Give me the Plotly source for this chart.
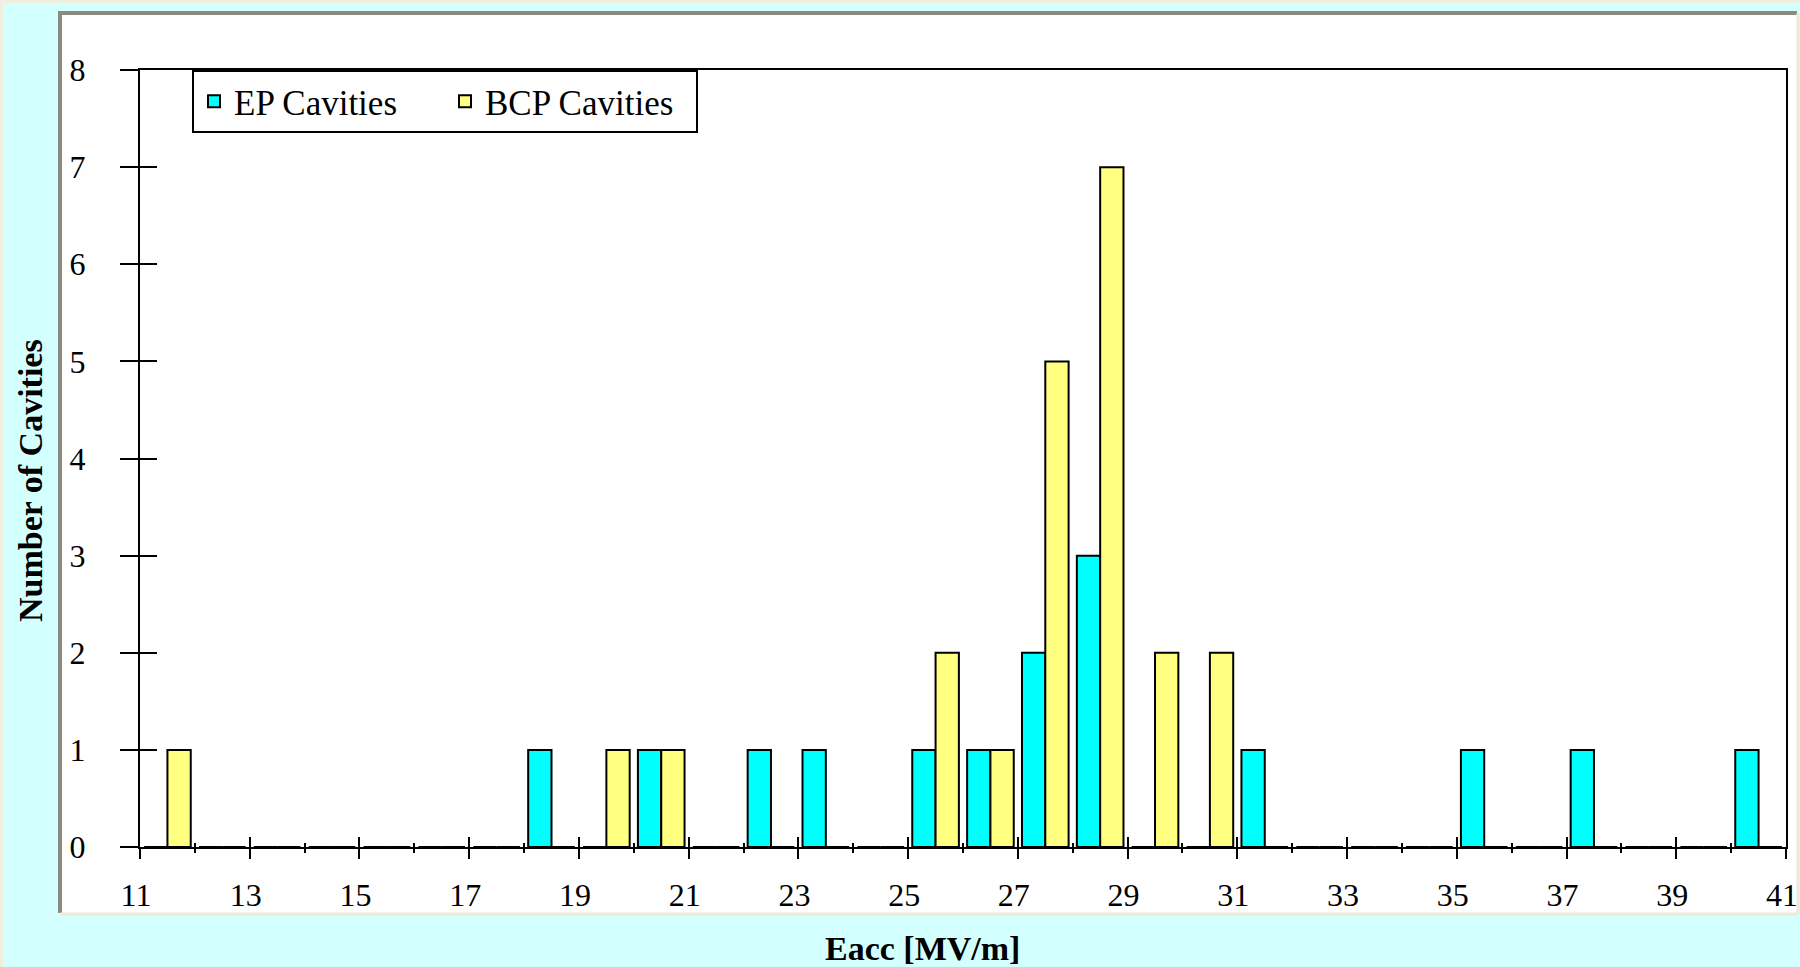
import plotly.graph_objects as go

# ---- data ----
bins = list(range(11, 41))  # bin start values, width 1 MV/m
ep_counts = {18: 1, 20: 1, 22: 1, 23: 1, 25: 1, 26: 1, 27: 2, 28: 3, 31: 1, 35: 1, 37: 1, 40: 1}
bcp_counts = {11: 1, 19: 1, 20: 1, 25: 2, 26: 1, 27: 5, 28: 7, 29: 2, 30: 2}
ep_values = [ep_counts.get(b, 0) for b in bins]
bcp_values = [bcp_counts.get(b, 0) for b in bins]
x_tick_labels = list(range(11, 42, 2))
y_tick_labels = list(range(0, 9))

W, H = 1800, 967
ML, MR, MT, MB = 140, 14, 70, 120
PW, PH = W - ML - MR, H - MT - MB
BG = "#D4FFFF"
INNER = "black"


def px(x):
    return (x - ML) / PW


def py(y):
    return (H - MB - y) / PH


x_centers = [b + 0.5 for b in bins]
SERIF = "Liberation Serif, Times New Roman, serif"

fig = go.Figure()
fig.add_trace(go.Bar(x=x_centers, y=ep_values, name="EP Cavities",
                     marker=dict(color="#00FFFF", line=dict(color="black", width=2))))
fig.add_trace(go.Bar(x=x_centers, y=bcp_values, name="BCP Cavities",
                     marker=dict(color="#FFFF80", line=dict(color="black", width=2))))
# helper trace so that the overlay axes (inner tick halves) are drawn
fig.add_trace(go.Scatter(x=[11], y=[0], xaxis="x2", yaxis="y2", mode="markers",
                         marker=dict(opacity=0), showlegend=False, hoverinfo="skip"))

tickfont = dict(family=SERIF, size=32, color="black")

fig.update_layout(
    width=W, height=H,
    margin=dict(l=ML, r=MR, t=MT, b=MB, pad=0, autoexpand=False),
    paper_bgcolor=BG,
    plot_bgcolor="white",
    barmode="group",
    bargap=0.15,
    bargroupgap=0,
    showlegend=True,
    legend=dict(
        orientation="h", x=px(192), y=1, xanchor="left", yanchor="top",
        bgcolor="white", bordercolor="black", borderwidth=2,
        font=dict(family=SERIF, size=35, color="black"),
        entrywidth=206, entrywidthmode="pixels", itemwidth=30,
    ),
    xaxis=dict(
        range=[11, 41], tickmode="array", tickvals=x_tick_labels,
        ticktext=[str(v) for v in x_tick_labels],
        ticks="outside", ticklen=10, tickwidth=2, tickcolor="black",
        minor=dict(tick0=11, dtick=1, ticks="outside", ticklen=4, tickwidth=2, tickcolor="black"),
        showline=True, linecolor="black", linewidth=2, mirror=True,
        showgrid=False, zeroline=False, tickfont=tickfont, ticklabelstandoff=9,
        ticklabelshift=-4, ticklabeloverflow="allow", automargin=False,
    ),
    yaxis=dict(
        range=[0, 8], tickmode="array", tickvals=y_tick_labels,
        ticks="outside", ticklen=18, tickwidth=2, tickcolor="black",
        showline=True, linecolor="black", linewidth=2, mirror=True,
        showgrid=False, zeroline=False, tickfont=tickfont, ticklabelstandoff=28,
        automargin=False,
    ),
    xaxis2=dict(
        range=[11, 41], overlaying="x", anchor="y", side="bottom",
        tickmode="array", tickvals=x_tick_labels, showticklabels=False,
        ticks="inside", ticklen=10, tickwidth=2, tickcolor=INNER,
        minor=dict(tick0=11, dtick=1, ticks="inside", ticklen=4, tickwidth=2, tickcolor=INNER),
        showline=False, showgrid=False, zeroline=False, automargin=False,
    ),
    yaxis2=dict(
        range=[0, 8], overlaying="y", anchor="x", side="left",
        tickmode="array", tickvals=y_tick_labels, showticklabels=False,
        ticks="inside", ticklen=17, tickwidth=2, tickcolor=INNER,
        showline=False, showgrid=False, zeroline=False, automargin=False,
    ),
)

# white chart panel with sunken border
shapes = [
    dict(type="rect", xref="paper", yref="paper", x0=px(60), x1=px(1797), y0=py(913), y1=py(13),
         fillcolor="white", line=dict(width=0), layer="below"),
    dict(type="line", xref="paper", yref="paper", x0=px(60), x1=px(60), y0=py(913), y1=py(12),
         line=dict(color="#8A8A80", width=4), layer="below"),
    dict(type="line", xref="paper", yref="paper", x0=px(58), x1=px(1797), y0=py(13), y1=py(13),
         line=dict(color="#8A8A80", width=4), layer="below"),
    dict(type="line", xref="paper", yref="paper", x0=px(60), x1=px(1798), y0=py(914), y1=py(914),
         line=dict(color="#ECE9D8", width=3), layer="below"),
    dict(type="line", xref="paper", yref="paper", x0=px(1798), x1=px(1798), y0=py(914), y1=py(13),
         line=dict(color="#ECE9D8", width=3), layer="below"),
    dict(type="rect", xref="paper", yref="paper", x0=px(0), x1=px(W), y0=py(3), y1=py(0),
         fillcolor="#F0EEDC", line=dict(width=0), layer="below"),
    dict(type="rect", xref="paper", yref="paper", x0=px(0), x1=px(3), y0=py(H), y1=py(0),
         fillcolor="#F0EEDC", line=dict(width=0), layer="below"),
]
fig.update_layout(shapes=shapes)

fig.add_annotation(text="<b>Eacc [MV/m]</b>", xref="paper", yref="paper",
                   x=px(922), y=py(948), xanchor="center", yanchor="middle", showarrow=False,
                   font=dict(family=SERIF, size=34, color="black"))
fig.add_annotation(text="<b>Number of Cavities</b>", xref="paper", yref="paper",
                   x=px(30), y=py(481), xanchor="center", yanchor="middle", showarrow=False,
                   textangle=-90, font=dict(family=SERIF, size=34, color="black"))

fig.write_html(
    "out.html",
    config={"displayModeBar": False},
    post_script=(
        "document.body.style.margin='0';"
        "document.body.style.overflow='hidden';"
        "document.body.style.background='" + BG + "';"
    ),
)
